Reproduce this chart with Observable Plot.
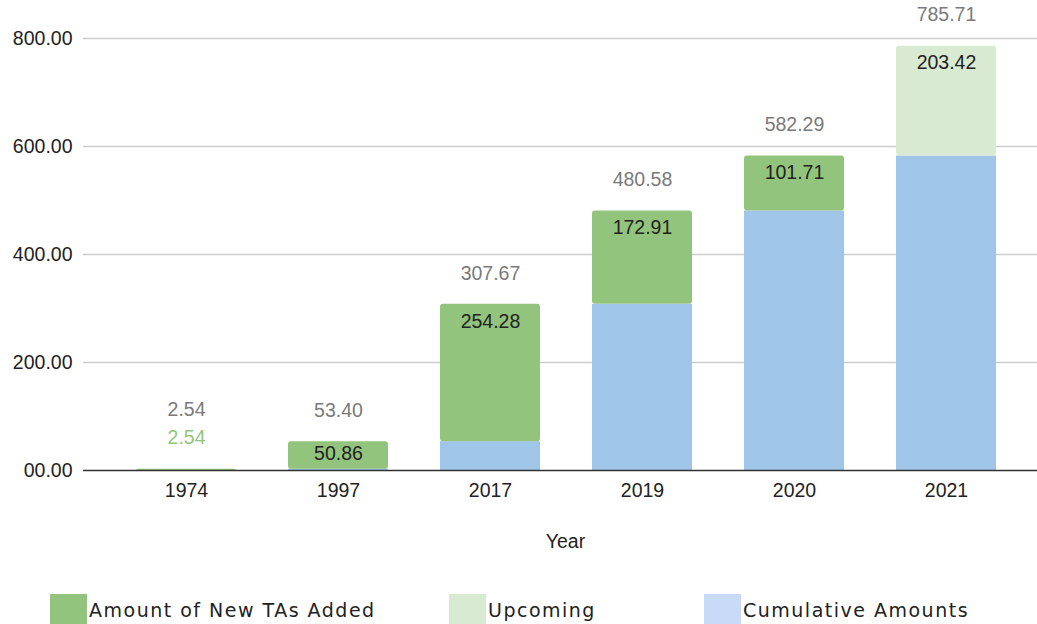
<!DOCTYPE html>
<html>
<head>
<meta charset="utf-8">
<script src="https://cdn.jsdelivr.net/npm/d3@7"></script>
<script src="https://cdn.jsdelivr.net/npm/@observablehq/plot@0.6"></script>
<style>
  html, body { margin: 0; padding: 0; background: #fff; width: 1037px; height: 624px; overflow: hidden; }
  #chart { position: absolute; left: 0; top: 0; }
  .legend { position: absolute; top: 594px; left: 0; width: 1037px; height: 30px; font-family: "DejaVu Sans", sans-serif; font-size: 19px; letter-spacing: 1.5px; color: #222; }
  .legend .sw { position: absolute; top: 0; width: 37px; height: 30px; }
  .legend .lb { position: absolute; top: 1px; line-height: 30px; white-space: nowrap; }
</style>
</head>
<body>
<div id="chart"></div>
<div class="legend" id="legend"></div>
<script>
// ---- data ----
const years = ["1974", "1997", "2017", "2019", "2020", "2021"];
const cumulative = [0, 2.54, 53.40, 307.67, 480.58, 582.29];
const newTAs = [2.54, 50.86, 254.28, 172.91, 101.71, 0];
const upcoming = [0, 0, 0, 0, 0, 203.42];
const totals = [2.54, 53.40, 307.67, 480.58, 582.29, 785.71];
const seriesNames = ["Cumulative Amounts", "Amount of New TAs Added", "Upcoming"];
const seriesColors = ["#9fc5e8", "#93c47d", "#d9ead3"];
const legendColors = ["#93c47d", "#d9ead3", "#c9daf8"];
const legendNames = ["Amount of New TAs Added", "Upcoming", "Cumulative Amounts"];
const yTicks = [0, 200, 400, 600, 800];
const yTickLabels = ["00.00", "200.00", "400.00", "600.00", "800.00"];
const xTitle = "Year";

// ---- build stacked rows ----
const seriesValues = [cumulative, newTAs, upcoming];
const rows = [];
years.forEach((yr, i) => {
  let base = 0;
  let lastIdx = -1;
  seriesValues.forEach((arr, s) => { if (arr[i] > 0) lastIdx = s; });
  seriesValues.forEach((arr, s) => {
    const v = arr[i];
    if (v > 0) {
      rows.push({year: yr, series: seriesNames[s], value: v, y1: base, y2: base + v, top: s === lastIdx, labelled: s > 0});
      base += v;
    }
  });
});
const segLabels = rows.filter(d => d.labelled);
const totalRows = years.map((yr, i) => ({year: yr, total: totals[i], small: segLabels.find(d => d.year === yr && d.value < 5) != null}));
const fmt = v => v.toFixed(2);
const FS = 19.5;

const chart = Plot.plot({
  width: 1037,
  height: 580,
  marginTop: 38,
  marginBottom: 110,
  marginLeft: 83,
  marginRight: 0,
  style: {fontFamily: "'Liberation Sans', Arial, sans-serif", fontSize: FS + "px", color: "#222", background: "#fff"},
  x: {type: "band", domain: years, paddingInner: 0.342, paddingOuter: 0.171, insetLeft: 27, insetRight: 14},
  y: {domain: [0, 800]},
  color: {domain: seriesNames, range: seriesColors},
  marks: [
    Plot.ruleY(yTicks.slice(1), {stroke: "#cccccc", strokeWidth: 1.3}),
    Plot.barY(rows.filter(d => !d.top), {x: "year", y1: "y1", y2: "y2", fill: "series"}),
    Plot.barY(rows.filter(d => d.top), {x: "year", y1: "y1", y2: "y2", fill: "series", rx: 3}),
    Plot.ruleY([0], {stroke: "#333", strokeWidth: 1.5}),
    Plot.axisY({ticks: yTicks, tickSize: 0, tickPadding: 11, tickFormat: v => yTickLabels[yTicks.indexOf(v)], label: null, fill: "#222", fontSize: FS}),
    Plot.axisX({tickSize: 0, tickPadding: 13, label: null, fill: "#222", fontSize: FS}),
    Plot.text([xTitle], {frameAnchor: "bottom", dy: 77, dx: 5, fill: "#222", fontSize: FS}),
    // segment labels inside bars
    Plot.text(segLabels.filter(d => d.value >= 60), {x: "year", y: "y2", text: d => fmt(d.value), dy: 17, fill: "#222", fontSize: FS}),
    Plot.text(segLabels.filter(d => d.value >= 5 && d.value < 60), {x: "year", y: "y2", text: d => fmt(d.value), dy: 12, fill: "#222", fontSize: FS}),
    // tiny segment label outside
    Plot.text(segLabels.filter(d => d.value < 5), {x: "year", y: "y2", text: d => fmt(d.value), dy: -31, fill: "#93c47d", fontSize: FS}),
    // totals
    Plot.text(totalRows.filter(d => !d.small), {x: "year", y: "total", text: d => fmt(d.total), dy: -31, fill: "#7a7a7a", fontSize: FS}),
    Plot.text(totalRows.filter(d => d.small), {x: "year", y: "total", text: d => fmt(d.total), dy: -59, fill: "#7a7a7a", fontSize: FS})
  ]
});
document.getElementById("chart").appendChild(chart);

// ---- legend ----
const lg = document.getElementById("legend");
const swX = [50, 449, 704];
legendNames.forEach((n, i) => {
  const sw = document.createElement("div");
  sw.className = "sw"; sw.style.left = swX[i] + "px"; sw.style.background = legendColors[i];
  const lb = document.createElement("div");
  lb.className = "lb"; lb.style.left = (swX[i] + 39) + "px"; lb.textContent = n;
  lg.appendChild(sw); lg.appendChild(lb);
});
</script>
</body>
</html>
